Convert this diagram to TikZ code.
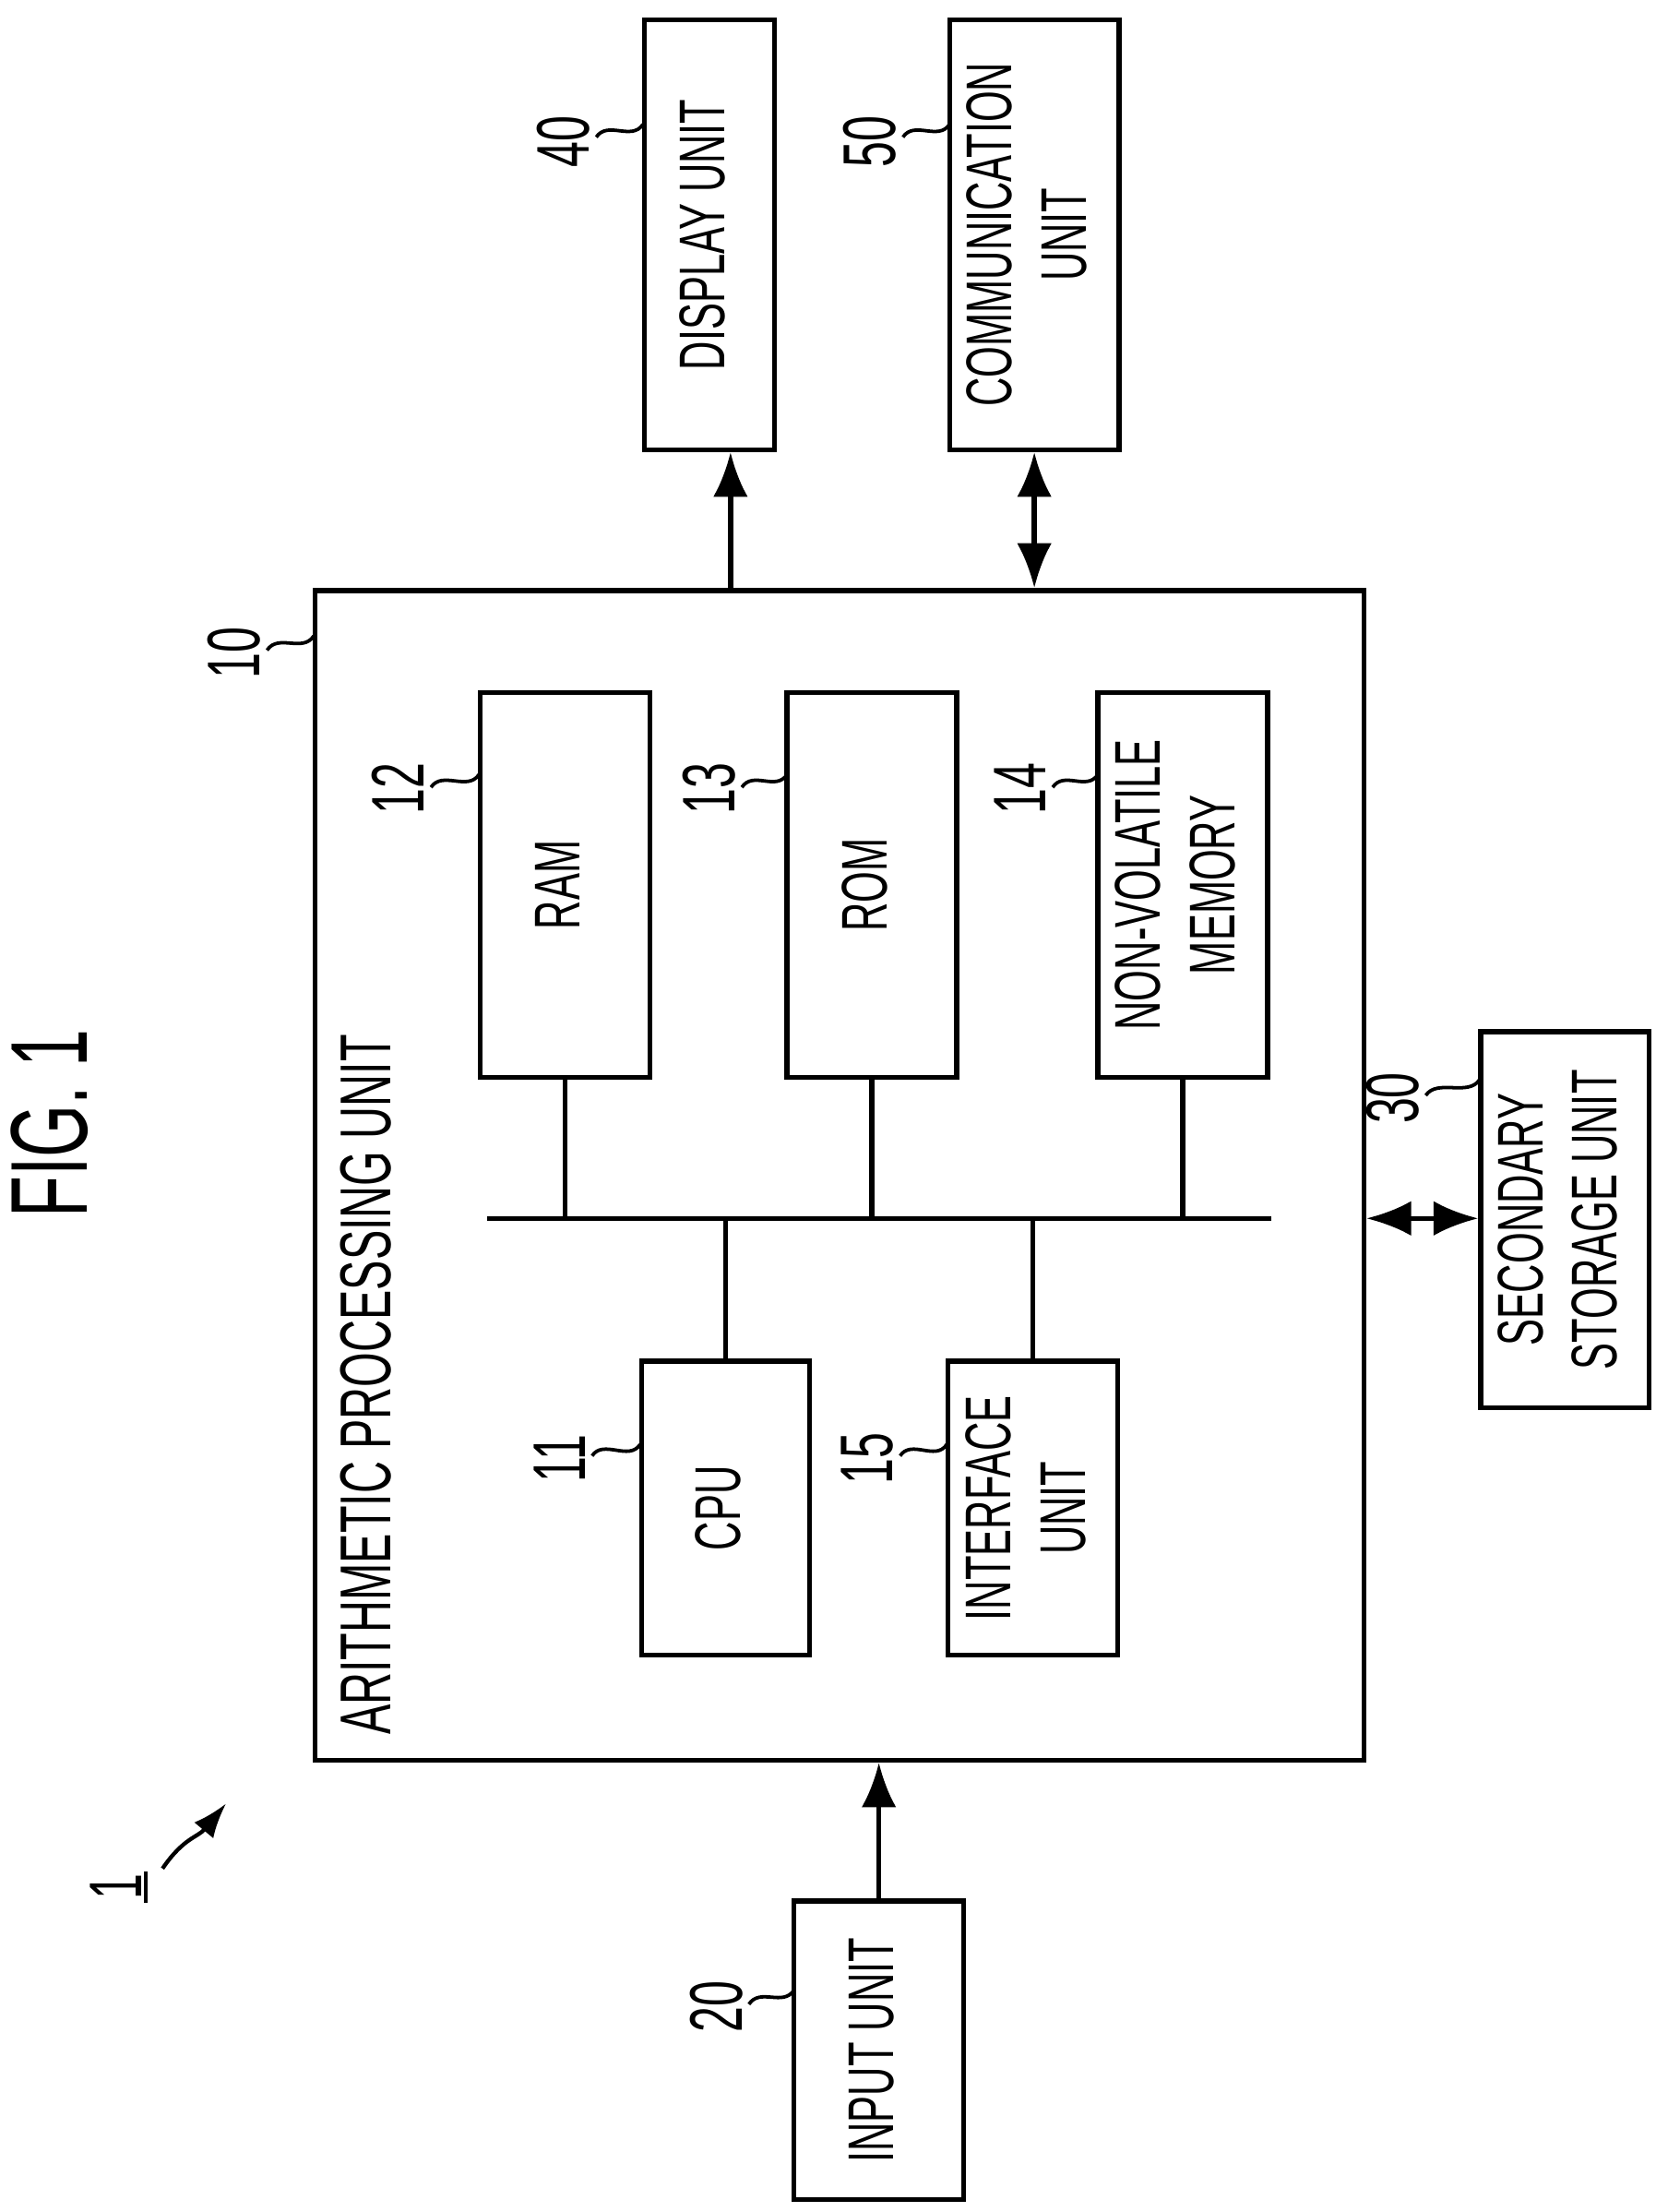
\documentclass[tikz,border=0pt]{standalone}
\usepackage{fontspec}
\setmainfont{Liberation Sans}
\usetikzlibrary{arrows.meta}
\tikzset{
  box/.style={draw, line width=1pt, inner sep=0pt},
  arr/.style={-{Latex[length=9pt,width=7pt]}, line width=1pt},
  darr/.style={{Latex[length=9pt,width=7pt]}-{Latex[length=9pt,width=7pt]}, line width=1pt},
  num/.style={font=\fontsize{15}{17}\selectfont},
  lead/.style={line width=0.7pt}
}
\newcommand{\rt}[1]{\rotatebox{90}{\scalebox{0.62}[1]{\begin{tabular}{@{}c@{}}#1\end{tabular}}}}
\newcommand{\squig}[2]{\draw[lead] (#1) .. controls ++(8,-12) and ++(-8,12) .. (#2);}
\begin{document}
\begin{tikzpicture}[x=0.01cm, y=-0.01cm, font=\fontsize{13}{15}\selectfont]
  \useasboundingbox (0,0) rectangle (1180,1565);
  % outer units
  \node[box, minimum width=0.92cm, minimum height=3.04cm] (disp) at (502,166) {\rt{DISPLAY UNIT}};
  \node[box, minimum width=1.2cm, minimum height=3.04cm] (comm) at (732,166) {\rt{COMMUNICATION\\UNIT}};
  \node[box, minimum width=7.42cm, minimum height=8.27cm] (apu) at (594,831.5) {};
  \node[box, minimum width=1.19cm, minimum height=2.66cm] (sec) at (1107.5,863) {\rt{SECONDARY\\STORAGE UNIT}};
  \node[box, minimum width=1.2cm, minimum height=2.11cm] (inp) at (622,1450.5) {\rt{INPUT UNIT}};
  % inner units
  \node[box, minimum width=1.2cm, minimum height=2.72cm] (ram) at (400,626) {\rt{RAM}};
  \node[box, minimum width=1.2cm, minimum height=2.72cm] (rom) at (617,626) {\rt{ROM}};
  \node[box, minimum width=1.2cm, minimum height=2.72cm] (nvm) at (837,626) {\rt{NON-VOLATILE\\MEMORY}};
  \node[box, minimum width=1.19cm, minimum height=2.08cm] (cpu) at (513.5,1067) {\rt{CPU}};
  \node[box, minimum width=1.2cm, minimum height=2.08cm] (ifu) at (731,1067) {\rt{INTERFACE\\UNIT}};
  \node[anchor=south, inner sep=0pt, font=\fontsize{14.5}{16}\selectfont] (apulbl) at (265,1228) {\rt{ARITHMETIC PROCESSING UNIT}};
  \node[font=\fontsize{22}{24}\selectfont] (fig) at (45,795) {\rt{FIG. 1}};
  % bus
  \coordinate (busl) at (345,862);
  \coordinate (busr) at (900,862);
  \draw[line width=1pt] (busl) -- (busr);
  \foreach \n in {ram,rom,nvm} \draw[line width=1pt] (\n.south) -- (\n.south |- busl);
  \foreach \n in {cpu,ifu} \draw[line width=1pt] (\n.north) -- (\n.north |- busl);
  % connectors
  \coordinate (dx) at (517,0);
  \draw[arr] (apu.north -| dx) -- (disp.south -| dx);
  \draw[darr] (apu.north -| comm) -- (comm.south);
  \draw[darr] (apu.east |- busl) -- (sec.west |- busl);
  \draw[arr] (inp.north) -- (apu.south -| inp);
  % reference numerals
  \node[num] (n40) at (405,100) {\rt{40}};  \squig{422,97}{455,88}
  \node[num] (n50) at (622,100) {\rt{50}};  \squig{639,97}{672,88}
  \node[num] (n10) at (172,462) {\rt{10}}; \squig{189,460}{222,450}
  \node[num] (n12) at (288,558) {\rt{12}}; \squig{305,557}{339,548}
  \node[num] (n13) at (508,558) {\rt{13}}; \squig{525,557}{557,548}
  \node[num] (n14) at (728,558) {\rt{14}}; \squig{745,557}{777,548}
  \node[num] (n11) at (402,1032) {\rt{11}}; \squig{419,1030}{453,1022}
  \node[num] (n15) at (620,1032) {\rt{15}}; \squig{637,1030}{670,1022}
  \node[num] (n30) at (992,777) {\rt{30}}; \squig{1009,775}{1047,764}
  \node[num] (n20) at (513,1420) {\rt{20}}; \squig{530,1418}{562,1408}
  \node[num] (n1) at (88,1335) {\rt{1}};
  \draw[line width=0.8pt] (103,1324) -- (103,1346);
  \draw[-{Latex[length=7pt,width=5pt]}, line width=0.8pt] (115,1322) .. controls (130,1300) and (140,1300) .. (160,1276);
\end{tikzpicture}
\end{document}
